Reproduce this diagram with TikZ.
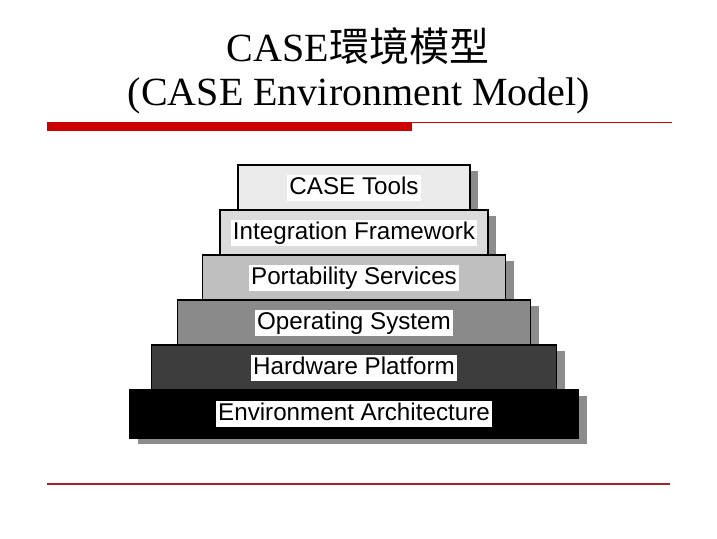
\documentclass[tikz,border=0pt]{standalone}
\usepackage{fontspec}
\setmainfont{Liberation Serif}
\setsansfont{Liberation Sans}
\newfontfamily\cjk{Noto Sans CJK TC}
\usepackage{tikz}
\usetikzlibrary{positioning,shadows}
\definecolor{barred}{HTML}{CC0000}
\definecolor{rulered}{HTML}{A3202C}

\begin{document}
\begin{tikzpicture}[x=1pt,y=1pt,
    layer/.style={draw,line width=1.5pt,minimum height=45pt,outer sep=0pt,inner sep=0pt,
        drop shadow={shadow xshift=8pt,shadow yshift=-6pt,fill=black!45,opacity=1}},
    lbl/.style={fill=white,inner sep=2pt,text height=17.5pt,text depth=4.5pt,
        font=\sffamily\fontsize{24.2}{27}\selectfont},
    title/.style={anchor=base,font=\fontsize{40}{44}\selectfont}]
\useasboundingbox (0,0) rectangle (717,-538);

\draw
    node at (358,-61)[title,name=head]{CASE{\cjk 環境模型}}
    node at (359,-105)[title,name=subhead]{(CASE Environment Model)}

    node at (354,-187.5)[layer,minimum width=232pt,fill=black!8,name=tools]{}
    node[below=0pt of tools,layer,minimum width=268pt,fill=black!14,name=frame]{}
    node[below=0pt of frame,layer,minimum width=303pt,fill=black!25,name=port]{}
    node[below=0pt of port,layer,minimum width=353pt,fill=black!46,name=os]{}
    node[below=0pt of os,layer,minimum width=405pt,fill=black!76,name=hw]{}
    node[below=0pt of hw,layer,minimum width=449pt,minimum height=48pt,fill=black,name=env]{}

    node at (tools)[lbl,name=toolstxt]{CASE Tools}
    node at (frame)[lbl,name=frametxt]{Integration Framework}
    node at (port)[lbl,name=porttxt]{Portability Services}
    node at (os)[lbl,name=ostxt]{Operating System}
    node at (hw)[lbl,name=hwtxt]{Hardware Platform}
    node at (env)[lbl,name=envtxt]{Environment Architecture}
;

    \fill [barred](47,-122) rectangle (412,-131);
    \draw [barred,line width=0.8pt](412,-122.4) -- (672,-122.4);
    \draw [rulered,line width=1.3pt](47,-484) -- (670,-484);
\end{tikzpicture}
\end{document}
